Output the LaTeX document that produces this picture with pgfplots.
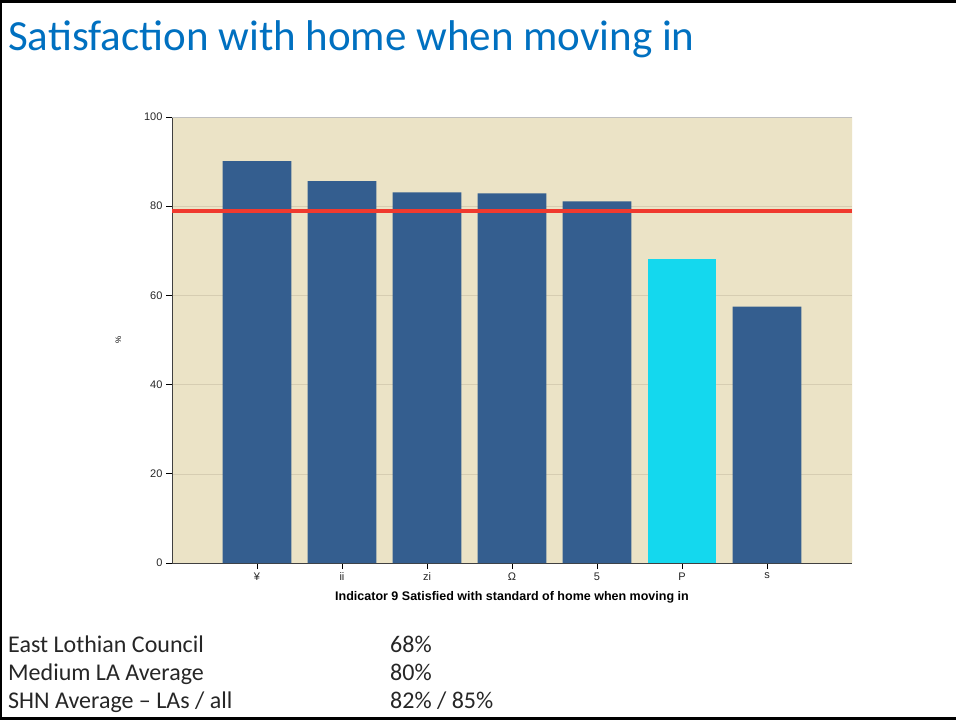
\documentclass[border=0pt]{standalone}
\usepackage{fontspec}
\setmainfont{Liberation Sans}
\newfontfamily\calibri{Carlito}
\usepackage{pgfplots}
\pgfplotsset{compat=1.18}

\definecolor{slidetitle}{RGB}{0,112,192}
\definecolor{bgbeige}{RGB}{235,227,198}
\definecolor{gridbeige}{RGB}{214,205,178}
\definecolor{barblue}{RGB}{52,94,143}
\definecolor{barcyan}{RGB}{20,216,238}
\definecolor{avgred}{RGB}{240,58,46}
\definecolor{bodytext}{RGB}{38,38,38}

\newcommand\tl{\fontsize{11}{13}\selectfont}

\begin{document}
\begin{tikzpicture}[x=1pt,y=1pt]
  % slide frame
  \path[use as bounding box] (0,0) rectangle (956,724);
  \fill[black] (0,721) rectangle (956,724);
  \fill[black] (0,4) rectangle (2,724);
  \fill[black] (0,4) rectangle (956,7);

  \node[anchor=base west, font=\calibri\fontsize{43}{48}\selectfont, text=slidetitle, inner sep=0pt]
    at (8,673) {Satisfaction with home when moving in};

  \begin{axis}[
      at={(172pt,161pt)}, anchor=south west,
      scale only axis,
      width=680pt, height=446pt,
      ybar,
      bar width=0.81,
      xmin=-1, xmax=7,
      ymin=0, ymax=100,
      xtick={0,1,2,3,4,5,6},
      xticklabels={\tl ¥,\tl ii,\tl zi,\tl Ω,\tl 5,\tl P,\tl s},
      ytick={0,20,40,60,80,100},
      yticklabel={\tl\pgfmathprintnumber{\tick}},
      axis x line*=bottom,
      axis y line*=left,
      axis line style={draw=black!75, line width=0.8pt},
      tick align=outside,
      major tick length=6pt,
      tick style={draw=black, line width=0.8pt},
      ymajorgrids,
      grid style={draw=gridbeige, line width=0.6pt},
      axis background/.style={fill=bgbeige},
      every tick label/.append style={font=\tl, text=black!85},
      /pgf/number format/assume math mode=true,
      xlabel={Indicator 9 Satisfied with standard of home when moving in},
      xlabel style={font=\bfseries\fontsize{12.5}{14}\selectfont, at={(axis description cs:0.5,-0.078)}, anchor=center},
      ylabel={\%},
      ylabel style={font=\fontsize{8}{10}\selectfont, at={(axis description cs:-0.079,0.5)}, anchor=center, rotate=0},
      clip=false,
    ]
    \addplot[fill=barblue, draw=none, bar shift=0pt] coordinates {
      (0,90.1) (1,85.6) (2,83.1) (3,82.9) (4,81.1) (6,57.5)
    };
    \addplot[fill=barcyan, draw=none, bar shift=0pt] coordinates {
      (5,68.1)
    };
    \addplot[sharp plot, draw=avgred, line width=3.5pt, mark=none, forget plot] coordinates {
      (-1,78.9) (7,78.9)
    };
    \draw[draw=black!25, line width=0.6pt] (axis cs:-1,100) -- (axis cs:7,100);
    \draw[draw=white!85!bgbeige, line width=1pt] (axis cs:7,0) -- (axis cs:7,100);
  \end{axis}

  \begin{scope}[every node/.style={anchor=base west, inner sep=0pt, text=bodytext,
      font=\calibri\fontsize{24}{28}\selectfont}]
    \node at (8,72) {East Lothian Council};
    \node at (8,44) {Medium LA Average};
    \node at (8,16) {SHN Average – LAs / all};
    \node at (390,72) {68\%};
    \node at (390,44) {80\%};
    \node at (390,16) {82\% / 85\%};
  \end{scope}
\end{tikzpicture}
\end{document}
